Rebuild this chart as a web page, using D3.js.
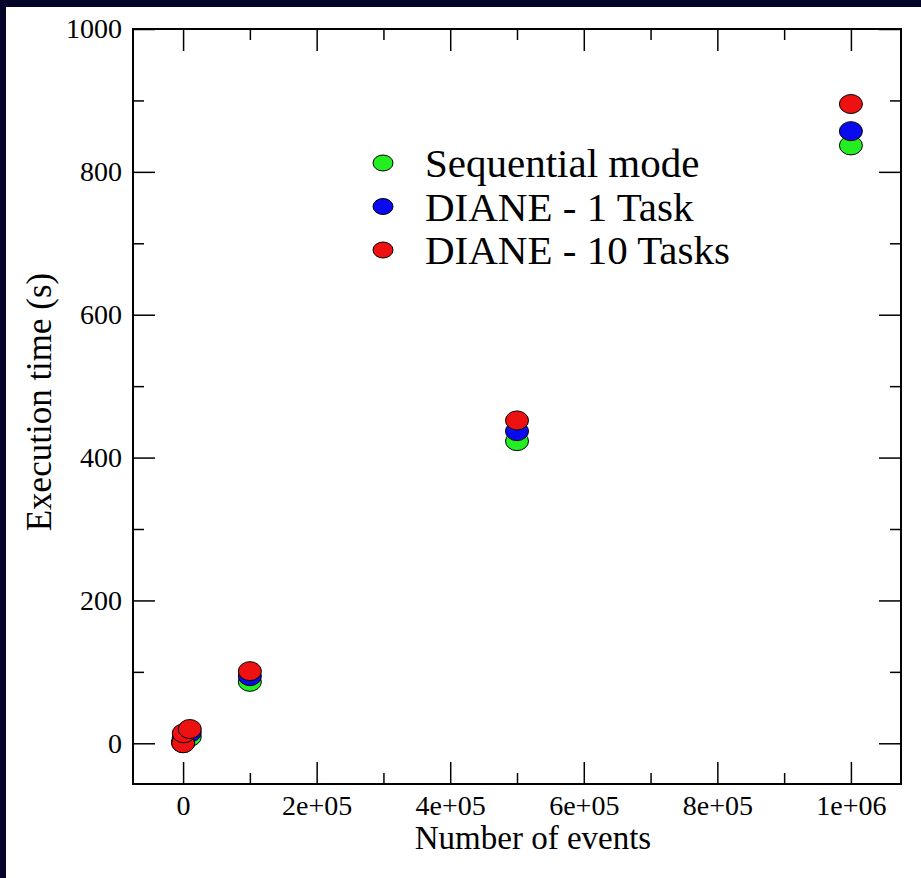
<!DOCTYPE html>
<html>
<head>
<meta charset="utf-8">
<script src="https://cdn.jsdelivr.net/npm/d3@7"></script>
<style>
  html, body { margin:0; padding:0; background:#fff; }
  #chart svg text { font-family: "Liberation Serif", "Times New Roman", Tinos, "DejaVu Serif", serif; fill:#000; }
</style>
</head>
<body>
<div id="chart"></div>
<script>
// values
var events     = [100, 1000, 10000, 100000, 500000, 1000000];
var sequential = [0.5, 2, 9, 86, 423, 837];
var diane1     = [3, 8, 15, 94, 437, 857];
var diane10    = [0, 14, 20, 101, 452, 895];

var seriesNames  = ['Sequential mode', 'DIANE - 1 Task', 'DIANE - 10 Tasks'];
var seriesColors = ['#22ee22', '#0a0aee', '#ee1111'];

var xMajor = [0, 200000, 400000, 600000, 800000, 1000000];
var xMinor = [100000, 300000, 500000, 700000, 900000];
var yMajor = [0, 200, 400, 600, 800, 1000];
var yMinor = [100, 300, 500, 700, 900];

var W = 921, H = 878;
var margin = {left:133, right:20, top:29, bottom:94};
var plotL = margin.left, plotR = W - margin.right;
var plotT = margin.top, plotB = H - margin.bottom;

var svg = d3.select('#chart').append('svg')
  .attr('width', W).attr('height', H);

svg.append('rect').attr('width', W).attr('height', H).attr('fill', '#fff');
// dark frame on top and left
svg.append('rect').attr('x',0).attr('y',0).attr('width',W).attr('height',7).attr('fill','#05052a');
svg.append('rect').attr('x',0).attr('y',0).attr('width',6).attr('height',H).attr('fill','#05052a');

var x = d3.scaleLinear().domain([-75000, 1075000]).range([plotL, plotR]);
var y = d3.scaleLinear().domain([-57, 1000]).range([plotB, plotT]);

function fmtX(d){
  if (d == 0) return '0';
  var e = Math.floor(Math.log10(d));
  var m = d / Math.pow(10, e);
  return m + 'e+' + (e < 10 ? '0' + e : e);
}
function noLabel(){ return ''; }

var bigTick = 22, smallTick = 11;

function addAxis(gen, vals, size, tx, ty, fmt){
  var g = svg.append('g').attr('transform', 'translate(' + tx + ',' + ty + ')')
    .call(gen.tickValues(vals).tickSize(-size).tickPadding(11).tickFormat(fmt));
  g.attr('font-family', null);
  g.select('.domain').remove();
  g.selectAll('line').attr('stroke', '#000').attr('stroke-width', 1.5);
  g.selectAll('text').attr('font-size', 28);
  return g;
}

addAxis(d3.axisBottom(x), xMajor, bigTick, 0, plotB, fmtX);
addAxis(d3.axisBottom(x), xMinor, smallTick, 0, plotB, noLabel);
addAxis(d3.axisTop(x), xMajor, bigTick, 0, plotT, noLabel);
addAxis(d3.axisTop(x), xMinor, smallTick, 0, plotT, noLabel);
addAxis(d3.axisLeft(y), yMajor, bigTick, plotL, 0, d3.format('d'));
addAxis(d3.axisLeft(y), yMinor, smallTick, plotL, 0, noLabel);
addAxis(d3.axisRight(y), yMajor, bigTick, plotR, 0, noLabel);
addAxis(d3.axisRight(y), yMinor, smallTick, plotR, 0, noLabel);

// frame
svg.append('rect')
  .attr('x', plotL).attr('y', plotT)
  .attr('width', plotR - plotL).attr('height', plotB - plotT)
  .attr('fill', 'none').attr('stroke', '#000').attr('stroke-width', 2);

// axis labels
svg.append('text')
  .attr('x', 533).attr('y', 849)
  .attr('text-anchor', 'middle')
  .attr('font-size', 33)
  .text('Number of events');
svg.append('text')
  .attr('transform', 'translate(51,402) rotate(-90)')
  .attr('text-anchor', 'middle')
  .attr('font-size', 35)
  .text('Execution time (s)');

// points
var allSeries = [sequential, diane1, diane10];
allSeries.forEach(function(vals, si){
  svg.append('g').selectAll('ellipse')
    .data(events.map(function(e, i){ return {x: e, y: vals[i]}; }))
    .enter().append('ellipse')
      .attr('cx', function(d){ return x(d.x); })
      .attr('cy', function(d){ return y(d.y); })
      .attr('rx', 11.5).attr('ry', 9.5)
      .attr('fill', seriesColors[si])
      .attr('stroke', '#000').attr('stroke-width', 1);
});

// legend
var legend = svg.append('g').attr('transform', 'translate(383,163)');
var rows = legend.selectAll('g').data(seriesNames).enter().append('g')
  .attr('transform', function(d, i){ return 'translate(0,' + (i * 43.5) + ')'; });
rows.append('ellipse')
  .attr('rx', 10).attr('ry', 8)
  .attr('fill', function(d, i){ return seriesColors[i]; })
  .attr('stroke', '#000').attr('stroke-width', 1);
rows.append('text')
  .attr('x', 42).attr('dy', '0.35em')
  .attr('font-size', 41)
  .text(function(d){ return d; });
</script>
</body>
</html>
